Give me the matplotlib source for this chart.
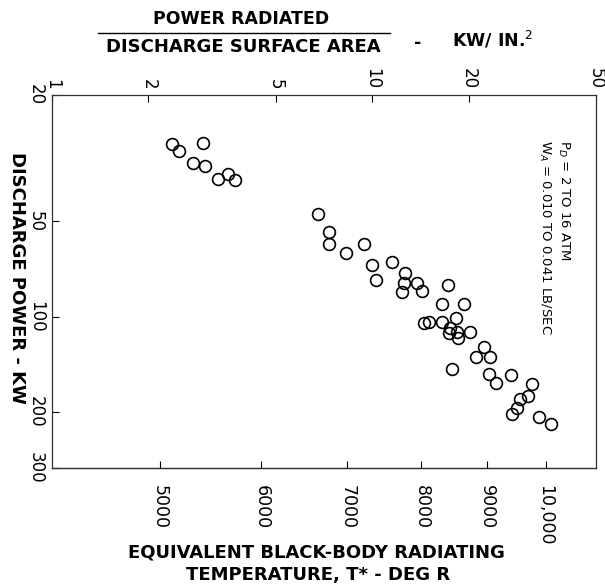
import numpy as np
import matplotlib.pyplot as plt
from matplotlib.lines import Line2D
from matplotlib.ticker import NullLocator

# radiated power per unit discharge surface area, kW/in^2
flux = [2.37, 2.49, 2.96, 2.76, 3.01, 3.30, 3.55, 3.73,
        6.78, 7.34, 7.34, 8.29, 9.44, 10.0, 11.55, 10.29, 12.68, 12.59, 12.41,
        13.82, 14.33, 17.28, 16.55, 19.39, 14.54, 15.07, 16.55, 18.30, 17.53,
        17.40, 18.43, 18.57, 20.25, 22.39, 21.13, 23.37, 17.78, 23.21, 24.41,
        27.18, 31.62, 30.73, 29.00, 28.39, 27.38, 33.24, 36.25]
# discharge power, kW
power = [28.5, 30.0, 28.3, 32.8, 33.5, 36.8, 35.5, 37.1,
         47.4, 54.1, 59.0, 63.0, 59.0, 68.7, 67.2, 76.6, 72.8, 78.3, 83.6,
         78.3, 82.9, 79.4, 91.2, 91.2, 104.7, 103.9, 103.9, 100.9, 108.5,
         112.5, 111.7, 116.7, 111.7, 124.6, 133.9, 133.9, 146.2, 151.6, 161.8,
         152.7, 163.0, 177.8, 181.6, 194.0, 202.6, 207.0, 217.9]

flux_ticks = [1, 2, 5, 10, 20, 50]
power_ticks = [20, 50, 100, 200, 300]
temp_ticks = [5000, 6000, 7000, 8000, 9000, 10000]
temp_labels = ['5000', '6000', '7000', '8000', '9000', '10,000']

# Stefan-Boltzmann constant in kW / (in^2 R^4)
SIGMA = 3.48e-15


def flux_to_temp(q):
    return (np.asarray(q, dtype=float) / SIGMA) ** 0.25


def temp_to_flux(t):
    return SIGMA * np.asarray(t, dtype=float) ** 4


fig = plt.figure(figsize=(6.05, 5.87), dpi=100)
ax = fig.add_axes([52 / 605, 1 - 468 / 587, 544 / 605, 373 / 587])

ax.plot(flux, power, 'o', mfc='none', mec='black', ms=8.5, mew=1.2)

ax.set_xscale('log')
ax.set_yscale('log')
ax.set_xlim(1, 50)
ax.set_ylim(300, 20)

for s in ax.spines.values():
    s.set_linewidth(0.9)
    s.set_color('#333333')

ax.xaxis.tick_top()
ax.set_xticks(flux_ticks, [str(t) for t in flux_ticks])
ax.set_yticks(power_ticks, [str(t) for t in power_ticks])
ax.xaxis.set_minor_locator(NullLocator())
ax.yaxis.set_minor_locator(NullLocator())
ax.tick_params(direction='in', length=5, width=0.8, labelsize=12)
ax.tick_params(axis='x', labelrotation=-90, pad=4)
ax.tick_params(axis='y', labelrotation=-90, pad=5)
for lab in ax.get_yticklabels():
    lab.set_va('center')

# temperature scale along the bottom
sec = ax.secondary_xaxis('bottom', functions=(flux_to_temp, temp_to_flux))
sec.set_xticks(temp_ticks, temp_labels)
sec.xaxis.set_minor_locator(NullLocator())
sec.tick_params(direction='in', length=5, width=0.8, labelsize=12.5,
                labelrotation=-90, pad=12)
sec.spines['bottom'].set_linewidth(0.9)
sec.spines['bottom'].set_color('#333333')

fig.text(0.028, 1 - 278 / 587, 'DISCHARGE POWER - KW', rotation=-90,
         ha='center', va='center', fontsize=13, fontweight='bold')

fig.text(316 / 605, 1 - 553 / 587, 'EQUIVALENT BLACK-BODY RADIATING',
         ha='center', va='center', fontsize=13, fontweight='bold')
fig.text(318 / 605, 1 - 575 / 587, 'TEMPERATURE, T* - DEG R', ha='center',
         va='center', fontsize=13, fontweight='bold')

# fraction heading for the top scale
fig.text(241 / 605, 1 - 19 / 587, 'POWER RADIATED', ha='center', va='center',
         fontsize=12.5, fontweight='bold')
fig.add_artist(Line2D([98 / 605, 390 / 605], [1 - 33 / 587] * 2,
                      transform=fig.transFigure, color='black', lw=1.0))
fig.text(243 / 605, 1 - 47 / 587, 'DISCHARGE SURFACE AREA', ha='center',
         va='center', fontsize=13, fontweight='bold')
fig.text(418 / 605, 1 - 43 / 587, '-', ha='center', va='center',
         fontsize=12.5, fontweight='bold')
fig.text(452 / 605, 1 - 40 / 587, r'KW/ IN.$^2$', ha='left', va='center',
         fontsize=12.5, fontweight='bold')

ax.text(0.94, 0.88, r'P$_D$ = 2 TO 16 ATM', transform=ax.transAxes,
        rotation=-90, ha='center', va='top', fontsize=9.5)
ax.text(0.905, 0.88, r'W$_A$ = 0.010 TO 0.041 LB/SEC', transform=ax.transAxes,
        rotation=-90, ha='center', va='top', fontsize=9.5)

fig.savefig('out.png', dpi=100)
